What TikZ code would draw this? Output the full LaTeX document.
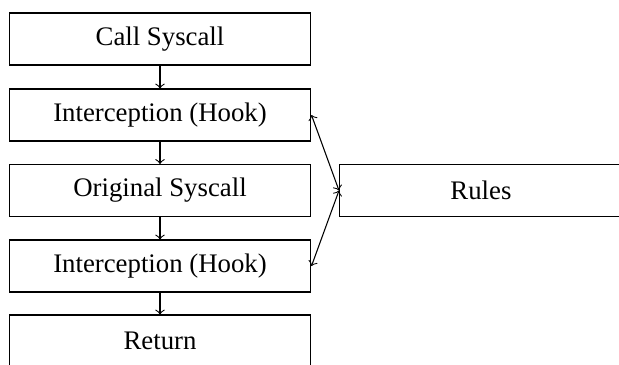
\documentclass[tikz,border=0pt]{standalone}
\usepackage{fontspec}
\setmainfont{Liberation Serif}
\begin{document}
\begin{tikzpicture}[x=0.3733pt,y=-0.3733pt,
  stepbox/.style={draw, rectangle, minimum width=112.7pt, minimum height=19.4pt, inner sep=0pt, font=\fontsize{10}{12}\selectfont}]
\useasboundingbox (0,0) rectangle (619,364);
\clip (0,0) rectangle (619,364);
\node[stepbox] (call) at (160,39) {Call Syscall};
\node[stepbox] (hook1) at (160,115) {Interception (Hook)};
\node[stepbox] (orig) at (160,190.5) {Original Syscall};
\node[stepbox] (hook2) at (160,266) {Interception (Hook)};
\node[stepbox] (ret) at (160,341) {Return};
\node[stepbox, minimum width=105.6pt, anchor=west] (rules) at (339,190.5) {Rules};
\draw[->] (call) -- (hook1);
\draw[->] (hook1) -- (orig);
\draw[->] (orig) -- (hook2);
\draw[->] (hook2) -- (ret);
\draw[<->] (rules.west) -- (hook1.east);
\draw[<->] (rules.west) -- (hook2.east);
\end{tikzpicture}
\end{document}
